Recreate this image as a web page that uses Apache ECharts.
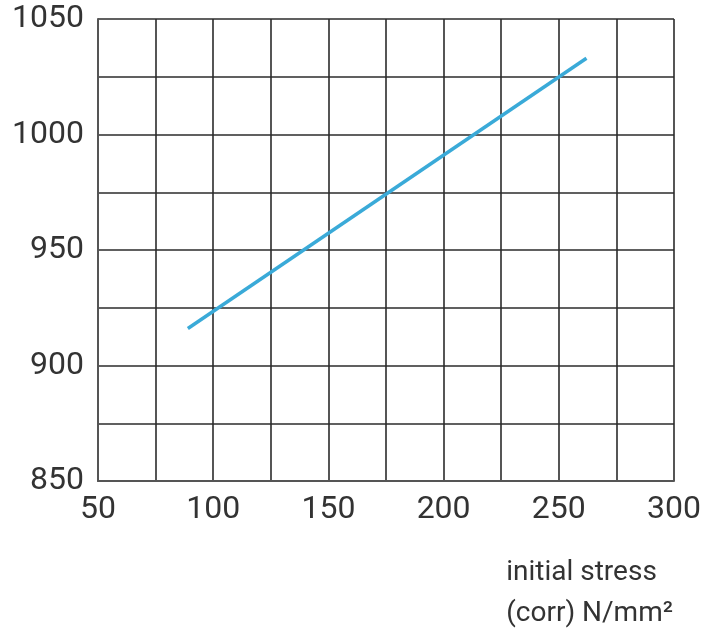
<!DOCTYPE html>
<html>
<head>
<meta charset="utf-8">
<script src="https://cdn.jsdelivr.net/npm/echarts@6/dist/echarts.min.js"></script>
<style>
  html, body { margin: 0; padding: 0; background: #fff; }
  #chart-container { width: 704px; height: 630px; }
</style>
</head>
<body>
<div id="chart-container"></div>
<script>
// values
const stress = [89, 262];
const values = [916, 1033];
const xTicks = [50, 100, 150, 200, 250, 300];
const yTicks = [850, 900, 950, 1000, 1050];

const gridColor = '#2b2b2b';
const labelColor = '#333';

const myChart = echarts.init(document.getElementById('chart-container'));

const option = {
	animation: false,
	grid: { left: 98, right: 29, top: 19, bottom: 149 },
	xAxis: {
		type: 'value',
		min: xTicks[0],
		max: xTicks[xTicks.length - 1],
		interval: 25,
		axisLine: { show: true, lineStyle: { color: '#555', width: 2 } },
		axisTick: { show: false },
		axisLabel: {
			interval: 1,
			formatter: v => (xTicks.includes(v) ? String(v) : ''),
			color: labelColor,
			fontFamily: 'Roboto',
			fontSize: 32,
			margin: 13
		},
		splitLine: { show: true, lineStyle: { color: gridColor, width: 1.6 } }
	},
	yAxis: {
		type: 'value',
		min: yTicks[0],
		max: yTicks[yTicks.length - 1],
		interval: 25,
		axisLine: { show: true, lineStyle: { color: '#555', width: 2 } },
		axisTick: { show: false },
		axisLabel: {
			formatter: v => (yTicks.includes(v) ? String(v) : ''),
			color: labelColor,
			fontFamily: 'Roboto',
			fontSize: 32,
			margin: 14
		},
		splitLine: { show: true, lineStyle: { color: gridColor, width: 1.6 } }
	},
	graphic: [{
		type: 'text',
		right: 31,
		top: 552,
		style: {
			text: 'initial stress\n(corr) N/mm²',
			align: 'right',
			fill: labelColor,
			font: '28px Roboto',
			lineHeight: 41
		}
	}],
	series: [{
		type: 'line',
		data: stress.map((x, i) => [x, values[i]]),
		showSymbol: false,
		lineStyle: { color: '#3aaad8', width: 3.5 }
	}]
};

myChart.setOption(option);
</script>
</body>
</html>
